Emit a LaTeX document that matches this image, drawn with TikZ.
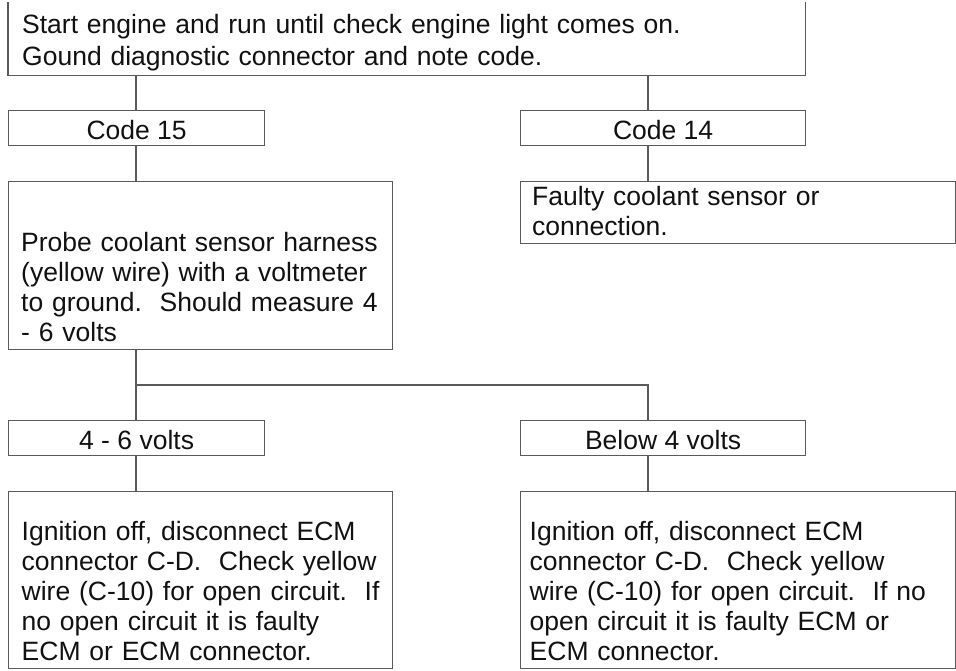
\documentclass[tikz,border=0pt]{standalone}
\usepackage{fontspec}
\setmainfont{Liberation Sans}
\frenchspacing
\definecolor{linegray}{HTML}{5A5A5A}
\definecolor{txt}{HTML}{111111}
\begin{document}
\begin{tikzpicture}[x=1pt,y=-1pt,
  box/.style={draw=linegray,line width=1.2pt,rectangle,inner sep=0pt,anchor=north west},
  codebox/.style={box,text=txt,font=\fontsize{26.5}{30}\selectfont,text height=23pt,text depth=0pt},
  txtnode/.style={anchor=base west,inner sep=0pt,text width=430pt,align=left,text=txt,font=\fontsize{26.5}{30}\selectfont},
  conn/.style={draw=linegray,line width=1.2pt}]
\useasboundingbox (0,0) rectangle (956,670);
% top box (top edge outside the picture)
\node[inner sep=0pt,anchor=north west,minimum width=797pt,minimum height=73pt] (top) at (8,2) {};
\draw[conn] (top.north west) -- (top.south west) -- (top.south east) -- (top.north east);
\node[txtnode,text width=780pt,font=\fontsize{26.5}{32.4}\selectfont] (toptext) at (22,33.3)
  {Start engine and run until check engine light comes on.\\Gound diagnostic connector and note code.};
% code boxes
\node[codebox,minimum width=256pt,minimum height=35pt] (c15) at (8,110) {Code 15};
\node[codebox,minimum width=285pt,minimum height=35pt] (c14) at (520,110) {Code 14};
% probe box
\node[box,minimum width=384pt,minimum height=168pt] (probe) at (8,181) {};
\node[txtnode] (probetext) at (21,251.7)
  {Probe coolant sensor harness\\(yellow wire) with a voltmeter\\to ground.\ \ Should measure 4\\- 6 volts};
% faulty box
\node[box,minimum width=435pt,minimum height=62pt] (faulty) at (520,181) {};
\node[txtnode,font=\fontsize{26.5}{30.5}\selectfont] (faultytext) at (532,205)
  {Faulty coolant sensor or\\connection.};
% volts boxes
\node[codebox,minimum width=256pt,minimum height=35pt] (v46) at (8,420) {4 - 6 volts};
\node[codebox,minimum width=285pt,minimum height=35pt] (below) at (520,420) {Below 4 volts};
% bottom boxes
\node[box,minimum width=384pt,minimum height=177pt] (lb) at (8,491) {};
\node[txtnode] (lbtext) at (21.5,540)
  {Ignition off, disconnect ECM\\connector C-D.\ \ Check yellow\\wire (C-10) for open circuit.\ \ If\\no open circuit it is faulty\\ECM or ECM connector.};
\node[box,minimum width=435pt,minimum height=177pt] (rb) at (520,491) {};
\node[txtnode] (rbtext) at (529.5,540)
  {Ignition off, disconnect ECM\\connector C-D.\ \ Check yellow\\wire (C-10) for open circuit.\ \ If no\\open circuit it is faulty ECM or\\ECM connector.};
% connectors
\coordinate (jl) at (136,385);
\coordinate (jr) at (648,385);
\draw[conn] (c15.north -| jl) -- (top.south -| jl);
\draw[conn] (c14.north -| jr) -- (top.south -| jr);
\draw[conn] (c15.south -| jl) -- (probe.north -| jl);
\draw[conn] (c14.south -| jr) -- (faulty.north -| jr);
\draw[conn] (probe.south -| jl) -- (v46.north -| jl);
\draw[conn] (jl) -- (jr) -- (below.north -| jr);
\draw[conn] (v46.south -| jl) -- (lb.north -| jl);
\draw[conn] (below.south -| jr) -- (rb.north -| jr);
\end{tikzpicture}
\end{document}
